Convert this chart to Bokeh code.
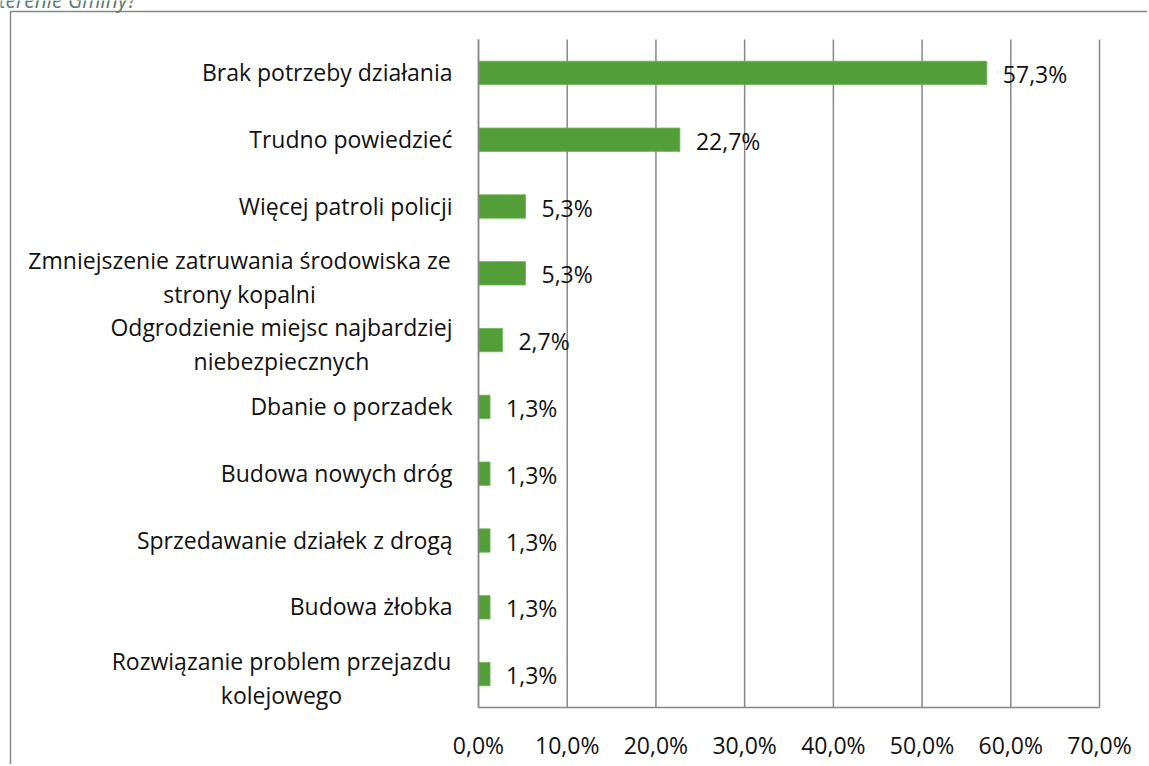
from bokeh.plotting import figure
from bokeh.models import ColumnDataSource, Range1d, FixedTicker, LinearAxis
from bokeh.core.properties import value
from bokeh.embed import file_html
from bokeh.resources import INLINE

# ---- data ----
categories = [
    "Brak potrzeby działania",
    "Trudno powiedzieć",
    "Więcej patroli policji",
    "Zmniejszenie zatruwania środowiska ze\nstrony kopalni",
    "Odgrodzienie miejsc najbardziej\nniebezpiecznych",
    "Dbanie o porzadek",
    "Budowa nowych dróg",
    "Sprzedawanie działek z drogą",
    "Budowa żłobka",
    "Rozwiązanie problem przejazdu\nkolejowego",
]
values = [57.3, 22.7, 5.3, 5.3, 2.7, 1.3, 1.3, 1.3, 1.3, 1.3]
x_ticks = [0, 10, 20, 30, 40, 50, 60, 70]
x_tick_labels = ["0,0%", "10,0%", "20,0%", "30,0%", "40,0%", "50,0%", "60,0%", "70,0%"]
title_text = "terenie Gminy?"

FONT = "Open Sans"
GREY = "#888888"
GREEN = "#549E3A"
TXT = "#111111"

W, H = 1147, 764
PLOT_L, PLOT_R, PLOT_T, PLOT_B = 478, 1099, 39, 707
n = len(categories)
xmax = x_ticks[-1]
sx = (PLOT_R - PLOT_L) / xmax          # px per percent
sy = (PLOT_B - PLOT_T) / n             # px per category slot

x_lo, x_hi = -PLOT_L / sx, (W - PLOT_L) / sx
y_lo, y_hi = -(H - PLOT_B) / sy, n + PLOT_T / sy

ypos = [n - 1 - i + 0.5 for i in range(n)]
value_labels = [f"{v:.1f}%".replace(".", ",") for v in values]
src = ColumnDataSource(dict(y=ypos, val=values, lab=value_labels))

p = figure(width=W, height=H, output_backend="svg", toolbar_location=None,
           x_range=Range1d(x_lo, x_hi), y_range=Range1d(y_lo, y_hi),
           x_axis_location=None, y_axis_location=None,
           min_border_left=0, min_border_right=0,
           min_border_top=0, min_border_bottom=0)
p.outline_line_color = None
p.grid.visible = False
p.background_fill_color = "white"
p.border_fill_color = "white"

# chart-area border (left and top edges visible, rest runs off the page)
bx = (10 - PLOT_L) / sx
by = n + (PLOT_T - 11) / sy
p.line(x=[bx, bx, x_hi + 5], y=[y_lo - 5, by, by], line_color=GREY, line_width=1.5)

# vertical grid lines at the ticks
p.segment(x0=x_ticks, y0=[0] * len(x_ticks), x1=x_ticks, y1=[n] * len(x_ticks),
          line_color=GREY, line_width=1.5)

# bars
p.hbar(y="y", left=0, right="val", height=0.35, source=src,
       fill_color=GREEN, line_color="#6cb553", line_width=0.8)

# x axis
xaxis = LinearAxis(fixed_location=0, bounds=(0, xmax),
                   ticker=FixedTicker(ticks=x_ticks),
                   major_label_overrides={t: l for t, l in zip(x_ticks, x_tick_labels)})
xaxis.axis_line_color = GREY
xaxis.axis_line_width = 1.5
xaxis.major_tick_line_color = None
xaxis.minor_tick_line_color = None
xaxis.major_label_standoff = 15
xaxis.major_label_text_font = FONT
xaxis.major_label_text_font_size = "23px"
xaxis.major_label_text_color = TXT
p.add_layout(xaxis, "below")

# y axis line
yaxis = LinearAxis(fixed_location=0, bounds=(0, n), ticker=FixedTicker(ticks=[]))
yaxis.axis_line_color = GREY
yaxis.axis_line_width = 1.5
yaxis.major_tick_line_color = None
yaxis.minor_tick_line_color = None
yaxis.major_label_text_font_size = "0px"
p.add_layout(yaxis, "left")

# value labels
p.text(x="val", y="y", text="lab", source=src, x_offset=16, y_offset=1,
       text_baseline="middle", text_font=value(FONT), text_font_size="23px",
       text_color=TXT)

# category labels
single = [i for i, c in enumerate(categories) if "\n" not in c]
multi = [i for i, c in enumerate(categories) if "\n" in c]
p.text(x=[-26 / sx] * len(single), y=[ypos[i] for i in single],
       text=[categories[i] for i in single], y_offset=-1,
       text_align="right", text_baseline="middle",
       text_font=value(FONT), text_font_size="23px", text_color=TXT)
centers_px = {3: 239, 4: 281, 9: 281}
p.text(x=[(centers_px[i] - PLOT_L) / sx for i in multi],
       y=[ypos[i] for i in multi],
       text=[categories[i] for i in multi], y_offset=4,
       text_align="center", text_baseline="middle", text_line_height=1.05,
       text_font=value(FONT), text_font_size="23px", text_color=TXT)

# title fragment (cut off at the top edge)
p.text(x=[-(PLOT_L + 2) / sx], y=[n + (PLOT_T + 1) / sy], text=[title_text],
       text_align="left", text_baseline="alphabetic",
       text_font=value(FONT), text_font_style="italic", text_font_size="21px",
       text_color="#5b7d70")

open("out.html", "w").write(file_html(p, INLINE))
